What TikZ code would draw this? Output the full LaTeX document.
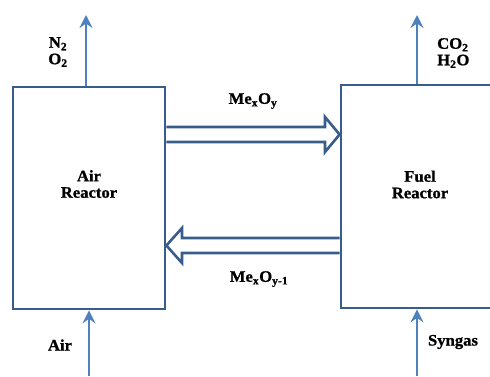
\documentclass[tikz,border=0pt]{standalone}
\usepackage{fontspec}
\newfontfamily\lblfont{Liberation Serif Bold}[FakeStretch=1.04,FakeBold=1]
\usetikzlibrary{arrows.meta}
\definecolor{boxblue}{RGB}{56,93,138}
\definecolor{flowblue}{RGB}{79,129,189}

\begin{document}
\begin{tikzpicture}[x=1pt,y=-1pt,line join=miter,
  reactor/.style={draw=boxblue,line width=2.8pt,minimum width=152pt,minimum height=222pt,inner sep=0pt},
  flow/.style={draw=flowblue,line width=2.8pt,-{Stealth[length=13pt,width=13pt,inset=4.5pt]}},
  hollow/.style={draw=boxblue,line width=2.6pt},
  lbl/.style={font=\lblfont\fontsize{16}{16.5}\selectfont,align=center,inner sep=0pt}]
  \useasboundingbox (0,0) rectangle (490,376);
  \clip (0,0) rectangle (490,376);
  % the two reactors; the fuel reactor runs off the right edge
  \node[reactor] (air) at (89,198) {};
  \node[reactor,minimum width=158pt,minimum height=223pt] (fuel) at (420,196.5) {};
  \node[lbl] (airlbl) at ([yshift=14pt]air.center) {Air\\Reactor};
  \node[lbl] (fuellbl) at ([yshift=12pt]fuel.center) {Fuel\\Reactor};
  % gas streams in and out
  \coordinate (airout) at (86,15);
  \coordinate (fuelout) at (417,15);
  \coordinate (airin) at (89,376);
  \coordinate (fuelin) at (417,376);
  \draw[flow] (air.north -| airout) -- (airout);
  \draw[flow] (fuel.north -| fuelout) -- (fuelout);
  \draw[flow] (airin) -- (air.south);
  \draw[flow] (fuelin) -- (fuel.south -| fuelin);
  % oxygen carrier loop between the reactors
  \draw[hollow] (air.east |- 0,127) -- (325,127) -- (325,117) -- (fuel.west |- 0,134.5) -- (325,152) -- (325,142) -- (air.east |- 0,142);
  \draw[hollow] (fuel.west |- 0,238) -- (182,238) -- (182,228) -- (air.east |- 0,245.5) -- (182,263) -- (182,253) -- (fuel.west |- 0,253);
  \node[lbl] (oxid) at (253,101) {Me\textsubscript{x}O\textsubscript{y}};
  \node[lbl] (reduc) at (259,279) {Me\textsubscript{x}O\textsubscript{y-1}};
  \node[lbl] (airexit) at (58,52) {N\textsubscript{2}\\O\textsubscript{2}};
  \node[lbl,align=left,anchor=west] (fuelexit) at (437,53) {CO\textsubscript{2}\\H\textsubscript{2}O};
  \node[lbl] (airfeed) at (60,345) {Air};
  \node[lbl] (fuelfeed) at (453,342) {Syngas};
\end{tikzpicture}
\end{document}
